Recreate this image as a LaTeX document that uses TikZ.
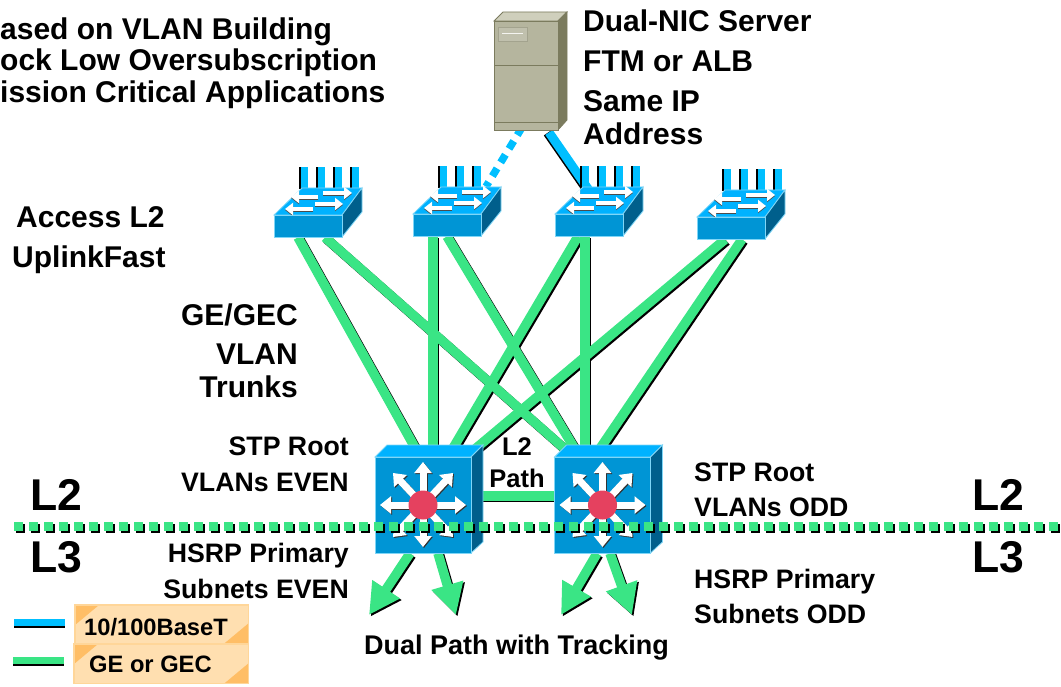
\documentclass[tikz,border=0pt]{standalone}
\usepackage{fontspec}
\setmainfont{Liberation Sans}
\usetikzlibrary{arrows.meta,backgrounds,patterns}
\definecolor{gline}{HTML}{3AE585}
\definecolor{bline}{HTML}{00BFFF}
\definecolor{swfront}{HTML}{0095D5}
\definecolor{swtop}{HTML}{00B2FF}
\definecolor{swside}{HTML}{005F8C}
\definecolor{swedge}{HTML}{7FD6F7}
\definecolor{srvfront}{HTML}{B5B59E}
\definecolor{srvtop}{HTML}{CFCFBC}
\definecolor{srvside}{HTML}{7B7B5E}
\definecolor{redhub}{HTML}{E5415F}
\definecolor{legdark}{HTML}{FFBE66}
\definecolor{leglight}{HTML}{FFDFB0}
\definecolor{legedge}{HTML}{FFD699}
\tikzset{
  x=1pt,y=-1pt,
  lbl/.style={inner sep=0pt,font=\bfseries\fontsize{26.7}{30}\selectfont,text=black},
  wide/.style={lbl,font=\bfseries\fontsize{27}{30}\selectfont},
  big/.style={lbl,font=\bfseries\fontsize{30}{32}\selectfont},
  huge/.style={lbl,font=\bfseries\fontsize{44.5}{46}\selectfont},
  small/.style={lbl,font=\bfseries\fontsize{23.7}{26}\selectfont},
  mid/.style={lbl,font=\bfseries\fontsize{25.5}{28}\selectfont},
  glink/.style={line width=9.5pt,draw=gline},
  shadowlink/.style={line width=9.5pt,draw=black,transform canvas={xshift=1.6pt,yshift=-1.6pt}},
  accessfront/.style={rectangle,inner sep=0pt,minimum width=68pt,minimum height=22pt,fill=swfront,draw=swedge,line width=0.8pt},
  corefront/.style={rectangle,inner sep=0pt,minimum width=96pt,minimum height=96pt,fill=swfront,draw=swedge,line width=0.8pt},
  srvbox/.style={rectangle,inner sep=0pt,minimum width=64pt,minimum height=109pt,fill=srvfront,draw=srvside,line width=0.8pt},
  whitearrow/.style={draw=white,line width=4.6pt,-{Triangle[length=8pt,width=12pt,fill=white]}},
  darkarrow/.style={draw=black!70,line width=4.6pt,-{Triangle[length=8pt,width=12pt,fill=black!70]}},
  hubarrow/.style={draw=white,line width=7pt,-{Triangle[length=11pt,width=17pt,fill=white]}},
  hubshadow/.style={draw=black!80,line width=7pt,-{Triangle[length=11pt,width=17pt,fill=black!80]}},
  legendbox/.style={rectangle,inner sep=0pt,anchor=north west,fill=leglight},
  legendedge/.style={draw=legedge,line width=1.2pt},
}
\newcommand{\legendcorners}[1]{%
  \fill[legdark] (#1.north west) -- ([xshift=24pt]#1.north west) -- ([yshift=-20pt]#1.north west) -- cycle;
  \fill[legdark] (#1.south east) -- ([xshift=-24pt]#1.south east) -- ([yshift=20pt]#1.south east) -- cycle;
  \draw[legendedge] (#1.north west) rectangle (#1.south east);}
\newcommand{\accessbox}[3]{%
  \begin{scope}[shift={(#2)}]
    \foreach \px in {-9,8,25,42}{\ifnum\px<#3
      \fill[black] (\px,-59) rectangle ++(2,22);
      \fill[bline] (\px+2,-59) rectangle ++(7,22);\fi}
    \fill[swtop,draw=swedge,line width=0.8pt] (-34,-11) -- (-6,-38) -- (54,-38) -- (34,-11) -- cycle;
    \fill[swside,draw=swedge,line width=0.8pt] (34,-11) -- (54,-38) -- (54,-14) -- (34,11) -- cycle;
    \foreach \xa/\xb/\yb in {10/-17/-29, 15/44/-33, 5/-23/-17, 7/35/-22}{
      \draw[darkarrow] (\xa,\yb+1) -- (\xb,\yb+1);
      \draw[whitearrow] (\xa,\yb) -- (\xb,\yb);}
  \end{scope}
  \node[accessfront] (#1) at (#2) {};}
\newcommand{\corebox}[2]{%
  \begin{scope}[shift={(#2)}]
    \fill[swtop,draw=swedge,line width=0.8pt] (-48,-48) -- (-36,-60) -- (60,-60) -- (48,-48) -- cycle;
    \fill[swside,draw=swedge,line width=0.8pt] (48,-48) -- (60,-60) -- (60,37) -- (48,48) -- cycle;
  \end{scope}
  \node[corefront] (#1) at (#2) {};
  \begin{scope}[shift={(#2)}]
    \foreach \ax/\ay in {0/-43, 0/42, -43/0, 43/0, -30/-32, 30/-32, -30/32, 30/32}{
      \draw[hubshadow] (1,1) -- (\ax+1,\ay+1);
      \draw[hubarrow] (0,0) -- (\ax,\ay);}
    \fill[redhub] (0,0) circle (14.5);
  \end{scope}}
\begin{document}
\begin{tikzpicture}
\useasboundingbox (0,0) rectangle (1061,687);

% server
\fill[srvtop,draw=srvside,line width=0.8pt] (494,21) -- (503,12) -- (567,12) -- (558,21) -- cycle;
\fill[srvside,draw=srvside,line width=0.8pt] (558,21) -- (567,12) -- (567,120) -- (558,130) -- cycle;
\node[srvbox] (srv) at (526,75.5) {};
\fill[srvfront!85!white,draw=srvside!70,line width=0.8pt] (498,27) rectangle (527,41);
\draw[white!85!srvfront,line width=1pt] (502,34) -- (523,34);
\draw[srvside,line width=0.8pt] (494,65) -- (558,65);
\draw[srvside,line width=0.8pt] (494,122) -- (558,122);

% switches
\accessbox{s1}{308,226}{50}
\accessbox{s2}{447,225}{30}
\accessbox{s3}{589,225}{50}
\accessbox{s4}{731,228}{50}
\corebox{c1}{423,505}
\corebox{c2}{602.5,505}

% free ends
\coordinate (t1) at (369,615);
\coordinate (t2) at (456,615);
\coordinate (t3) at (561,615);
\coordinate (t4) at (632,615);
\coordinate (lineL) at (14,526.5);
\coordinate (lineR) at (1061,526.5);
\coordinate (legBa) at (14,622);
\coordinate (legBb) at (65,622);
\coordinate (legGa) at (13,660);
\coordinate (legGb) at (64,660);

\begin{scope}[on background layer]
  % uplinks
  \foreach \sn/\sx/\cn/\cx in {s1/-10/c1/-3, s1/17/c2/-29, s2/-14/c1/10, s2/0/c2/-23,
                               s3/-11/c1/25, s3/-4/c2/-17.5, s4/-6/c1/43, s4/11/c2/-8}{
    \draw[shadowlink] ([xshift=\sx pt]\sn.south) -- ([xshift=\cx pt]\cn.north);
  }
  \foreach \sn/\sx/\cn/\cx in {s1/-10/c1/-3, s1/17/c2/-29, s2/-14/c1/10, s2/0/c2/-23,
                               s3/-11/c1/25, s3/-4/c2/-17.5, s4/-6/c1/43, s4/11/c2/-8}{
    \draw[glink] ([xshift=\sx pt]\sn.south) -- ([xshift=\cx pt]\cn.north);
  }
  % L2 path
  \draw[shadowlink] ([yshift=9pt]c1.east) -- ([yshift=9pt]c2.west);
  \draw[glink] ([yshift=9pt]c1.east) -- ([yshift=9pt]c2.west);
  % downlinks
  \foreach \cn/\cx/\tp in {c1/-13/t1, c1/15/t2, c2/-5.5/t3, c2/7.5/t4}{
    \draw[shadowlink,-{Triangle[length=31pt,width=31pt,fill=black]}] ([xshift=\cx pt]\cn.south) -- (\tp);
    \draw[glink,-{Triangle[length=31pt,width=31pt,fill=gline]}] ([xshift=\cx pt]\cn.south) -- (\tp);
  }
  % server links
  \draw[line width=9pt,draw=black,transform canvas={xshift=-1.5pt,yshift=-0.5pt}] ([xshift=23pt,yshift=-2pt]srv.south) -- ([xshift=3pt,yshift=19pt]s3.north);
  \draw[line width=9pt,draw=bline] ([xshift=23pt,yshift=-2pt]srv.south) -- ([xshift=3pt,yshift=19pt]s3.north);
  \draw[line width=7.5pt,draw=bline,dash pattern=on 9pt off 7pt] ([xshift=-4pt,yshift=3pt]srv.south) -- ([xshift=39pt,yshift=27pt]s2.north);
\end{scope}

% L2/L3 boundary
\draw[line width=8.5pt,draw=black,dash pattern=on 9pt off 6pt,transform canvas={xshift=2pt,yshift=-2pt}] (lineL) -- (lineR);
\draw[line width=8.5pt,draw=gline,dash pattern=on 9pt off 6pt] (lineL) -- (lineR);

% legend
\draw[line width=7pt,draw=black,transform canvas={yshift=-2pt}] (legBa) -- (legBb);
\draw[line width=7pt,draw=bline] (legBa) -- (legBb);
\draw[line width=7pt,draw=black,transform canvas={yshift=-2pt}] (legGa) -- (legGb);
\draw[line width=7pt,draw=gline] (legGa) -- (legGb);
\node[legendbox,minimum width=173pt,minimum height=38pt] (lb1) at (75,605) {};
\legendcorners{lb1}
\node[legendbox,minimum width=174pt,minimum height=39pt] (lb2) at (74,644) {};
\legendcorners{lb2}
\node[small,anchor=base west] (tl1) at (84,635) {10/100BaseT};
\node[small,anchor=base west] (tl2) at (89,672) {GE or GEC};

% labels
\node[big,anchor=base west] (n1) at (0,40) {ased on VLAN Building};
\node[big,anchor=base west] (n2) at (0,71) {ock Low Oversubscription};
\node[big,anchor=base west] (n3) at (0,103) {ission Critical Applications};
\node[big,anchor=base west] (n4) at (583,32) {Dual-NIC Server};
\node[big,anchor=base west] (n5) at (583,72) {FTM or ALB};
\node[big,anchor=base west] (n6) at (583,112) {Same IP};
\node[big,anchor=base west] (n7) at (583,145) {Address};
\node[big,anchor=base west] (n8) at (16,228) {Access L2};
\node[big,anchor=base west] (n9) at (12,268) {UplinkFast};
\node[big,anchor=base east] (n10) at (298,325) {GE/GEC};
\node[big,anchor=base east] (n11) at (298,364) {VLAN};
\node[big,anchor=base east] (n12) at (298,397) {Trunks};
\node[lbl,anchor=base east] (n13) at (349,455) {STP Root};
\node[lbl,anchor=base east] (n14) at (349,491) {VLANs EVEN};
\node[lbl,anchor=base east] (n15) at (349,562) {HSRP Primary};
\node[lbl,anchor=base east] (n16) at (349,598) {Subnets EVEN};
\node[lbl,anchor=base west] (n17) at (694,481) {STP Root};
\node[lbl,anchor=base west] (n18) at (694,516) {VLANs ODD};
\node[lbl,anchor=base west] (n19) at (694,588) {HSRP Primary};
\node[lbl,anchor=base west] (n20) at (694,623) {Subnets ODD};
\node[wide,anchor=base west] (n21) at (364,654) {Dual Path with Tracking};
\node[mid,anchor=base] (n22) at (517,455) {L2};
\node[mid,anchor=base] (n23) at (517,487) {Path};
\node[huge,anchor=base west] (n24) at (30,510) {L2};
\node[huge,anchor=base west] (n25) at (30,572) {L3};
\node[huge,anchor=base west] (n26) at (972,510) {L2};
\node[huge,anchor=base west] (n27) at (972,572) {L3};
\end{tikzpicture}
\end{document}
